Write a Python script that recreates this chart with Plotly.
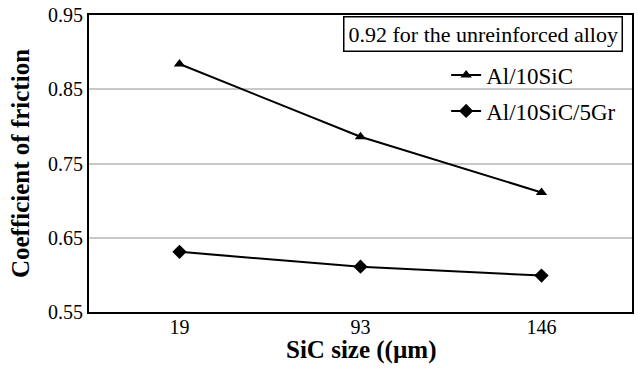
import plotly.graph_objects as go

sizes = ["19", "93", "146"]
al_sic = [0.884, 0.786, 0.711]
al_sic_gr = [0.631, 0.611, 0.599]
y_ticks = [0.55, 0.65, 0.75, 0.85, 0.95]
y_tick_labels = ["0.55", "0.65", "0.75", "0.85", "0.95"]

FONT = "Liberation Serif"

fig = go.Figure()
fig.add_trace(go.Scatter(x=sizes, y=al_sic, mode="lines+markers", name="Al/10SiC",
                         legendgroup="a",
                         line=dict(color="black", width=2),
                         marker=dict(symbol="triangle-up", size=10, color="black")))
fig.add_trace(go.Scatter(x=sizes, y=al_sic_gr, mode="lines+markers", name="Al/10SiC/5Gr",
                         legendgroup="b",
                         line=dict(color="black", width=2),
                         marker=dict(symbol="diamond", size=11, color="black")))

fig.add_annotation(text="0.92 for the unreinforced alloy", xref="paper", yref="paper",
                   x=0.983, y=0.995, xanchor="right", yanchor="top", showarrow=False,
                   font=dict(family=FONT, size=22, color="black"),
                   bordercolor="black", borderwidth=1.5, borderpad=4, bgcolor="white")

fig.add_annotation(text="<b>SiC size ((µm)</b>", xref="paper", yref="paper",
                   x=0.5, y=-0.127, xanchor="center", yanchor="middle", showarrow=False,
                   font=dict(family=FONT, size=25, color="black"))

fig.update_layout(
    width=638, height=379,
    margin=dict(l=89, r=4, t=14, b=67),
    paper_bgcolor="white", plot_bgcolor="white",
    font=dict(family=FONT, color="black"),
    showlegend=True,
    legend=dict(x=0.98, y=0.87, xanchor="right", yanchor="top",
                font=dict(family=FONT, size=23, color="black"),
                bgcolor="rgba(0,0,0,0)", traceorder="grouped", tracegroupgap=3),
    xaxis=dict(type="category", range=[-0.5, 2.5], showgrid=False,
               showline=True, linecolor="black", linewidth=2, mirror=True,
               ticks="", ticklabelstandoff=-4,
               tickfont=dict(family=FONT, size=20, color="black")),
    yaxis=dict(range=[0.55, 0.95], tickvals=y_ticks, ticktext=y_tick_labels,
               showgrid=True, gridcolor="#c8c8c8", gridwidth=1.5,
               showline=True, linecolor="black", linewidth=2, mirror=True,
               ticks="", tickfont=dict(family=FONT, size=20, color="black"),
               zeroline=False,
               title=dict(text="<b>Coefficient of friction</b>", font=dict(family=FONT, size=25, color="black"),
                          standoff=11)),
)

fig.write_html("out.html", config={"displayModeBar": False},
               post_script="document.body.style.margin='0';")
